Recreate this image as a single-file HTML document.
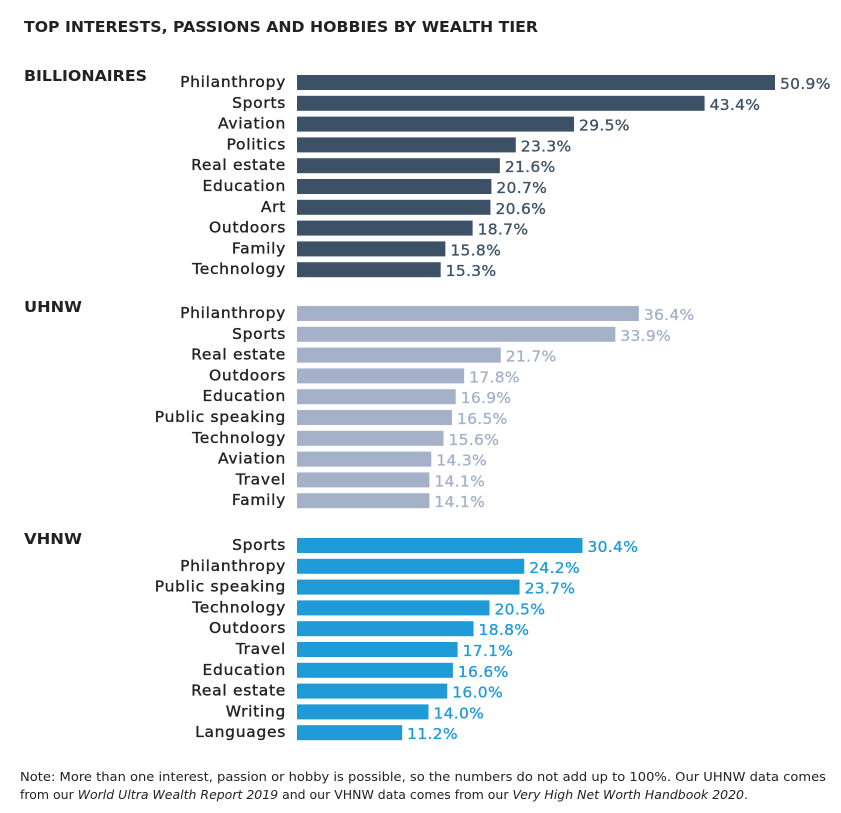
<!DOCTYPE html>
<html><head><meta charset="utf-8"><style>
body{margin:0;background:#fff;width:841px;height:809px;overflow:hidden;font-family:"DejaVu Sans",sans-serif;}
svg text{font-family:"DejaVu Sans","Liberation Sans",sans-serif;}
</style></head><body>
<svg width="841" height="809">
<text x="24" y="32" font-size="15" font-weight="bold" fill="#222" textLength="514" lengthAdjust="spacingAndGlyphs">TOP INTERESTS, PASSIONS AND HOBBIES BY WEALTH TIER</text>
<g id="bars"></g>
<text x="20" y="781" font-size="12.5" fill="#222" textLength="806" lengthAdjust="spacingAndGlyphs">Note: More than one interest, passion or hobby is possible, so the numbers do not add up to 100%. Our UHNW data comes</text>
<text x="20" y="799" font-size="12.5" fill="#222" textLength="728" lengthAdjust="spacingAndGlyphs">from our <tspan font-style="italic">World Ultra Wealth Report 2019</tspan> and our VHNW data comes from our <tspan font-style="italic">Very High Net Worth Handbook 2020</tspan>.</text>
</svg>
<script>
const billCats=["Philanthropy","Sports","Aviation","Politics","Real estate","Education","Art","Outdoors","Family","Technology"];
const billVals=[50.9,43.4,29.5,23.3,21.6,20.7,20.6,18.7,15.8,15.3];
const uhnwCats=["Philanthropy","Sports","Real estate","Outdoors","Education","Public speaking","Technology","Aviation","Travel","Family"];
const uhnwVals=[36.4,33.9,21.7,17.8,16.9,16.5,15.6,14.3,14.1,14.1];
const vhnwCats=["Sports","Philanthropy","Public speaking","Technology","Outdoors","Travel","Education","Real estate","Writing","Languages"];
const vhnwVals=[30.4,24.2,23.7,20.5,18.8,17.1,16.6,16.0,14.0,11.2];
const x0=297, pxPer=478/50.9;
const xs=v=>x0+v*pxPer;
const ns="http://www.w3.org/2000/svg";
const g=document.getElementById('bars');
const groups=[
 {name:"BILLIONAIRES",cats:billCats,vals:billVals,top:75,bar:"#3d5166",txt:"#3d5166",key:"billionaires",hw:123},
 {name:"UHNW",cats:uhnwCats,vals:uhnwVals,top:306,bar:"#a4b1c8",txt:"#a4b1c8",key:"uhnw",hw:58},
 {name:"VHNW",cats:vhnwCats,vals:vhnwVals,top:538,bar:"#1e9ad6",txt:"#1e9ad6",key:"vhnw",hw:58}];
const step=20.8;
groups.forEach(gr=>{
 const h=document.createElementNS(ns,'text');
 
 
 h.setAttribute('x',24);h.setAttribute('y',gr.top+6);h.setAttribute('font-size','15');h.setAttribute('font-weight','bold');h.setAttribute('fill','#222');
 h.setAttribute('textLength',gr.hw);h.setAttribute('lengthAdjust','spacingAndGlyphs');
 h.textContent=gr.name;g.appendChild(h);
 gr.cats.forEach((c,i)=>{
  const y=gr.top+i*step;
  const l=document.createElementNS(ns,'text');
  
  
  l.setAttribute('x',286);l.setAttribute('y',y+12);l.setAttribute('text-anchor','end');l.setAttribute('font-size','15.5');l.setAttribute('letter-spacing','0.7');l.setAttribute('fill','#222');l.setAttribute('stroke','#222');l.setAttribute('stroke-width','0.35');
  l.textContent=c;g.appendChild(l);
  const r=document.createElementNS(ns,'rect');
  
  
  r.setAttribute('x',x0);r.setAttribute('y',y);r.setAttribute('width',xs(gr.vals[i])-x0);r.setAttribute('height',15);r.setAttribute('fill',gr.bar);
  g.appendChild(r);
  const v=document.createElementNS(ns,'text');
  
  
  v.setAttribute('x',xs(gr.vals[i])+5);v.setAttribute('y',y+14);v.setAttribute('font-size','15.5');v.setAttribute('letter-spacing','0.3');v.setAttribute('fill',gr.txt);v.setAttribute('stroke',gr.txt);v.setAttribute('stroke-width','0.3');
  v.textContent=gr.vals[i].toFixed(1)+'%';g.appendChild(v);
 });
});
</script>
</body></html>
